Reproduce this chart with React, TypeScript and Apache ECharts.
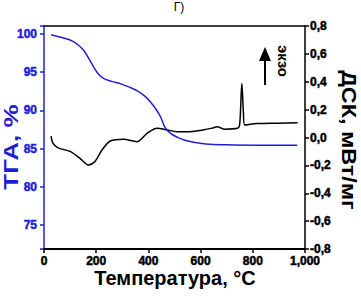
import React, { useEffect, useRef } from "react";
import * as echarts from "echarts";

const tgaData: [number, number][] = [
  [27, 99.9], [60, 99.6], [113, 99.0], [151, 97.9], [175, 96.6], [190, 95.7],
  [210, 94.7], [228, 94.2], [260, 93.8], [292, 93.5], [330, 93.0], [356, 92.6],
  [385, 91.9], [408, 91.1], [430, 90.1], [446, 89.2], [465, 87.7], [485, 87.0],
  [510, 86.5], [540, 86.1], [580, 85.8], [620, 85.6], [700, 85.5], [800, 85.45],
  [900, 85.45], [970, 85.45],
];

const dscData: [number, number][] = [
  [27, 0.01], [34, -0.04], [50, -0.07], [62, -0.08], [100, -0.1], [138, -0.15],
  [170, -0.197], [196, -0.17], [222, -0.09], [254, -0.025], [305, -0.013],
  [356, -0.03], [395, 0.03], [433, 0.066], [472, 0.054], [510, 0.042],
  [560, 0.042], [613, 0.055], [650, 0.07], [664, 0.077], [690, 0.06],
  [741, 0.066], [750, 0.1], [758, 0.39], [764, 0.18], [769, 0.09],
  [818, 0.1], [900, 0.103], [972, 0.106],
];

const xTicks = { min: 0, max: 1000, interval: 200 };
const tgaRange = { min: 71.85, max: 101.05 };
const dscTicks = { min: -0.8, max: 0.8, interval: 0.2 };

const BLUE = "#1f1fd6";
const FONT = "Arial, 'Liberation Sans', sans-serif";

export default function App() {
  const ref = useRef<HTMLDivElement>(null);
  useEffect(() => {
    if (!ref.current) return;
    const chart = echarts.init(ref.current, undefined, { renderer: "svg" });
    const labelStyle = { fontFamily: FONT, fontWeight: "bold", fontSize: 12, textBorderWidth: 0.5 };
    chart.setOption({
      animation: false,
      backgroundColor: "#ffffff",
      grid: { left: 44, right: 56, top: 26, bottom: 50 },
      xAxis: [
        {
          type: "value",
          min: xTicks.min,
          max: xTicks.max,
          interval: xTicks.interval,
          axisLine: { show: true, onZero: false, lineStyle: { color: "#000", width: 2 } },
          axisTick: { show: true, length: 4, lineStyle: { color: "#000", width: 1.5 } },
          axisLabel: { ...labelStyle, color: "#000", textBorderColor: "#000", margin: 6 },
          splitLine: { show: false },
        },
        {
          type: "value",
          position: "top",
          min: xTicks.min,
          max: xTicks.max,
          axisLine: { show: true, onZero: false, lineStyle: { color: "#000", width: 1.5 } },
          axisTick: { show: false },
          axisLabel: { show: false },
          splitLine: { show: false },
        },
      ],
      yAxis: [
        {
          type: "value",
          min: tgaRange.min,
          max: tgaRange.max,
          splitNumber: 6,
          position: "left",
          axisLine: { show: true, onZero: false, lineStyle: { color: BLUE, width: 1.5 } },
          axisTick: { show: true, length: 4, lineStyle: { color: BLUE, width: 1.5 } },
          axisLabel: {
            ...labelStyle, color: BLUE, textBorderColor: BLUE, margin: 7,
            formatter: (v: number) => (Math.abs(v % 5) < 1e-6 ? String(v) : ""),
          },
          splitLine: { show: false },
        },
        {
          type: "value",
          min: dscTicks.min,
          max: dscTicks.max,
          interval: dscTicks.interval,
          position: "right",
          axisLine: { show: true, onZero: false, lineStyle: { color: "#000", width: 1.5 } },
          axisTick: { show: true, length: 4, lineStyle: { color: "#000", width: 1.5 } },
          axisLabel: {
            ...labelStyle, color: "#000", textBorderColor: "#000", margin: 5,
            formatter: (v: number) => v.toFixed(1).replace(".", ","),
          },
          splitLine: { show: false },
        },
      ],
      series: [
        {
          type: "line",
          name: "TGA",
          xAxisIndex: 0,
          yAxisIndex: 0,
          data: tgaData,
          smooth: 0.4,
          showSymbol: false,
          lineStyle: { color: BLUE, width: 1.5 },
          z: 3,
        },
        {
          type: "line",
          name: "DSC",
          xAxisIndex: 0,
          yAxisIndex: 1,
          data: dscData,
          smooth: 0.3,
          showSymbol: false,
          lineStyle: { color: "#000", width: 1.5 },
          z: 2,
        },
      ],
      graphic: [
        {
          type: "text",
          x: 179,
          y: 7,
          style: { text: "Г)", font: `12px ${FONT}`, fill: "#000", align: "center", verticalAlign: "middle" },
        },
        {
          type: "text",
          x: 11,
          y: 147,
          rotation: Math.PI / 2,
          scaleX: 1.3,
          style: { text: "ТГА, %", font: `bold 20px ${FONT}`, fill: BLUE, align: "center", verticalAlign: "middle" },
        },
        {
          type: "text",
          x: 349,
          y: 140,
          rotation: -Math.PI / 2,
          scaleX: 1.17,
          style: { text: "ДСК, мВт/мг", font: `bold 20px ${FONT}`, fill: "#000", align: "center", verticalAlign: "middle" },
        },
        {
          type: "text",
          x: 175,
          y: 278,
          style: { text: "Температура, °C", font: `bold 20px ${FONT}`, fill: "#000", align: "center", verticalAlign: "middle" },
        },
        {
          type: "text",
          x: 283,
          y: 61,
          rotation: -Math.PI / 2,
          style: { text: "экзо", font: `bold 15px ${FONT}`, fill: "#000", align: "center", verticalAlign: "middle" },
        },
        {
          type: "line",
          shape: { x1: 265, y1: 58, x2: 265, y2: 85 },
          style: { stroke: "#000", lineWidth: 2 },
        },
        {
          type: "polygon",
          shape: { points: [[265, 47], [259, 61], [271, 61]] },
          style: { fill: "#000" },
        },
      ],
    });
    return () => chart.dispose();
  }, []);
  return (
    <div
      ref={ref}
      style={{ position: "fixed", left: 0, top: 0, width: 361, height: 299, background: "#fff" }}
    />
  );
}
